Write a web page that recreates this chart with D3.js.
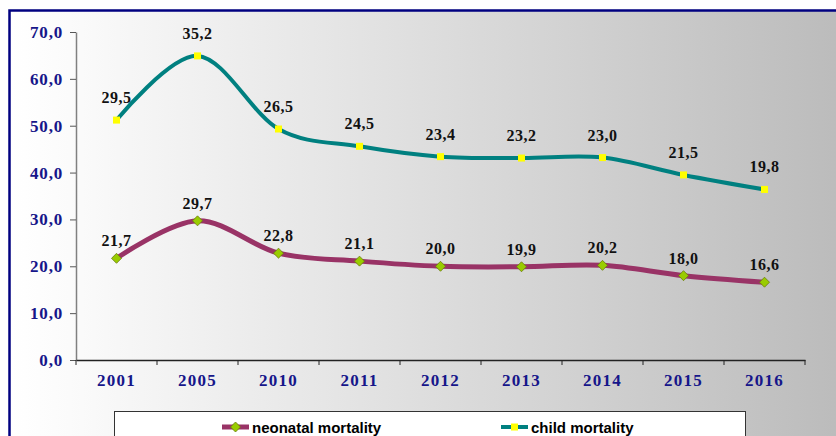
<!DOCTYPE html>
<html>
<head>
<meta charset="utf-8">
<script src="https://cdn.jsdelivr.net/npm/d3@7"></script>
<style>
  body { margin: 0; background: #fff; }
  svg { display: block; }
</style>
</head>
<body>
<svg width="836" height="436"></svg>
<script>
var years = ["2001", "2005", "2010", "2011", "2012", "2013", "2014", "2015", "2016"];
var neonatal = [21.7, 29.7, 22.8, 21.1, 20.0, 19.9, 20.2, 18.0, 16.6];
var child = [29.5, 35.2, 26.5, 24.5, 23.4, 23.2, 23.0, 21.5, 19.8];
var yTicks = [0, 10, 20, 30, 40, 50, 60, 70];
var seriesNames = ["neonatal mortality", "child mortality"];

var svg = d3.select("svg");

var plotLeft = 76, plotRight = 805, plotTop = 32, plotBottom = 360;

var fmt = function(v) { return d3.format(".1f")(v).replace(".", ","); };

// frame with grey gradient
var defs = svg.append("defs");
var grad = defs.append("linearGradient").attr("id", "bg")
    .attr("x1", "0%").attr("x2", "100%").attr("y1", "0%").attr("y2", "0%");
grad.append("stop").attr("offset", "0%").attr("stop-color", "#ffffff");
grad.append("stop").attr("offset", "7%").attr("stop-color", "#fbfbfb");
grad.append("stop").attr("offset", "100%").attr("stop-color", "#b9b9b9");

svg.append("rect")
    .attr("x", 9.5).attr("y", 10.5)
    .attr("width", 860).attr("height", 460)
    .attr("fill", "url(#bg)")
    .attr("stroke", "#000080")
    .attr("stroke-width", 2.5);

var x = d3.scaleBand().domain(years).range([plotLeft, plotRight]);
var y = d3.scaleLinear().domain([0, 70]).range([plotBottom, plotTop]);

// stacked series (child plotted on top of neonatal)
var rows = years.map(function(d, i) { return {year: d, neonatal: neonatal[i], child: child[i]}; });
var stacked = d3.stack().keys(["neonatal", "child"])(rows);

// y axis
var yAxis = svg.append("g")
    .attr("transform", "translate(" + plotLeft + ",0)")
    .call(d3.axisLeft(y).tickValues(yTicks).tickFormat(fmt).tickSize(6).tickSizeOuter(0));
yAxis.select(".domain").attr("stroke", "#808080").attr("stroke-width", 1.5);
yAxis.selectAll(".tick line").attr("stroke", "#555");
yAxis.selectAll("text")
    .attr("x", -13)
    .attr("fill", "#16168a")
    .style("font-family", "'Liberation Serif', 'Times New Roman', serif")
    .style("font-weight", "bold")
    .style("font-size", "17px")
    .style("letter-spacing", "0.8px");

// x axis
var xAxis = svg.append("g")
    .attr("transform", "translate(0," + plotBottom + ")")
    .call(d3.axisBottom(x).tickSize(0).tickSizeOuter(0));
xAxis.select(".domain").attr("stroke", "#222").attr("stroke-width", 1.5);
xAxis.selectAll("text")
    .attr("y", 14)
    .attr("dy", "0.71em")
    .attr("fill", "#16168a")
    .style("font-family", "'Liberation Serif', 'Times New Roman', serif")
    .style("font-weight", "bold")
    .style("font-size", "17px")
    .style("letter-spacing", "1.2px");
xAxis.selectAll(".edge")
    .data(years.concat(["end"]))
    .enter().append("line")
    .attr("class", "edge")
    .attr("x1", function(d) { return d === "end" ? x.range()[1] : x(d); })
    .attr("x2", function(d) { return d === "end" ? x.range()[1] : x(d); })
    .attr("y1", 0).attr("y2", 5)
    .attr("stroke", "#222");

var cx = function(d) { return x(d.data.year) + x.bandwidth() / 2; };

var line = d3.line()
    .x(cx)
    .y(function(d) { return y(d[1]); })
    .curve(d3.curveCardinal.tension(0));

var colors = ["#993366", "#008080"];

svg.selectAll(".series")
    .data(stacked)
    .enter().append("path")
    .attr("class", "series")
    .attr("d", line)
    .attr("fill", "none")
    .attr("stroke", function(d, i) { return colors[i]; })
    .attr("stroke-width", function(d, i) { return i === 0 ? 5 : 4; });

// neonatal markers: green diamonds
var diamond = "M0,-5L5,0L0,5L-5,0Z";
svg.selectAll(".dia")
    .data(stacked[0])
    .enter().append("path")
    .attr("class", "dia")
    .attr("transform", function(d) { return "translate(" + cx(d) + "," + y(d[1]) + ")"; })
    .attr("d", diamond)
    .attr("fill", "#99cc00")
    .attr("stroke", "#6b7a10")
    .attr("stroke-width", 0.8);

// child markers: yellow squares
svg.selectAll(".sq")
    .data(stacked[1])
    .enter().append("rect")
    .attr("class", "sq")
    .attr("x", function(d) { return cx(d) - 3.5; })
    .attr("y", function(d) { return y(d[1]) - 3.5; })
    .attr("width", 7).attr("height", 7)
    .attr("fill", "#ffff00");

// data labels
var labelFont = function(sel) {
  sel.attr("text-anchor", "middle")
    .attr("fill", "#111")
    .style("font-family", "'Liberation Serif', 'Times New Roman', serif")
    .style("font-weight", "bold")
    .style("font-size", "16px")
    .style("letter-spacing", "0.5px");
};
svg.selectAll(".lab0")
    .data(stacked[0])
    .enter().append("text")
    .attr("class", "lab0")
    .attr("x", cx)
    .attr("y", function(d) { return y(d[1]) - 12; })
    .text(function(d) { return fmt(d.data.neonatal); })
    .call(labelFont);
svg.selectAll(".lab1")
    .data(stacked[1])
    .enter().append("text")
    .attr("class", "lab1")
    .attr("x", cx)
    .attr("y", function(d) { return y(d[1]) - 17; })
    .text(function(d) { return fmt(d.data.child); })
    .call(labelFont);

// legend
svg.append("rect")
    .attr("x", 114.5).attr("y", 411.5)
    .attr("width", 631).attr("height", 40)
    .attr("fill", "#fff")
    .attr("stroke", "#333")
    .attr("stroke-width", 1);

var legendX = [222, 501];
var leg = svg.selectAll(".leg")
    .data(seriesNames)
    .enter().append("g")
    .attr("class", "leg")
    .attr("transform", function(d, i) { return "translate(" + legendX[i] + ",427)"; });
leg.append("line")
    .attr("x1", 0).attr("x2", 27)
    .attr("stroke", function(d, i) { return colors[i]; })
    .attr("stroke-width", function(d, i) { return i === 0 ? 5 : 4; });
leg.filter(function(d, i) { return i === 0; }).append("path")
    .attr("transform", "translate(13.5,0)")
    .attr("d", diamond)
    .attr("fill", "#99cc00")
    .attr("stroke", "#6b7a10")
    .attr("stroke-width", 0.8);
leg.filter(function(d, i) { return i === 1; }).append("rect")
    .attr("x", 10).attr("y", -3.5).attr("width", 7).attr("height", 7)
    .attr("fill", "#ffff00");
leg.append("text")
    .attr("x", 30).attr("y", 6)
    .text(function(d) { return d; })
    .attr("fill", "#000")
    .style("font-family", "'Liberation Sans', Arial, sans-serif")
    .style("font-weight", "bold")
    .style("font-size", "15px");
</script>
</body>
</html>
